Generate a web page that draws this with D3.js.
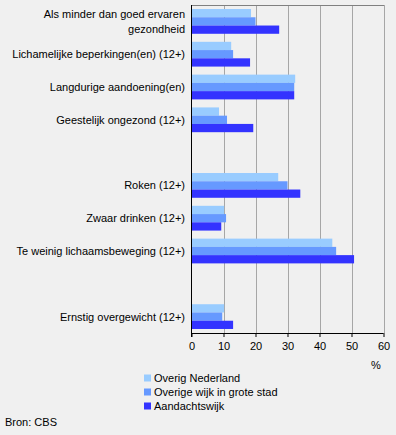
<!DOCTYPE html>
<html><head><meta charset="utf-8">
<script src="https://cdn.jsdelivr.net/npm/d3@7"></script>
<style>
html,body{margin:0;padding:0;background:#f0f0f0;}
svg{display:block;}
text{font-family:"Liberation Sans",Arial,sans-serif;font-size:11px;fill:#000;}
</style></head><body>
<script>
const categories = [
  ["Als minder dan goed ervaren", "gezondheid"],
  ["Lichamelijke beperkingen(en) (12+)"],
  ["Langdurige aandoening(en)"],
  ["Geestelijk ongezond (12+)"],
  [],
  ["Roken (12+)"],
  ["Zwaar drinken (12+)"],
  ["Te weinig lichaamsbeweging (12+)"],
  [],
  ["Ernstig overgewicht (12+)"]
];
const seriesNames = ["Overig Nederland", "Overige wijk in grote stad", "Aandachtswijk"];
const overigNederland = [18.6, 12.4, 32.4, 8.6, null, 27.1, 10.2, 44.0, null, 10.2];
const overigeWijk     = [20.0, 13.0, 32.1, 11.1, null, 30.0, 10.8, 45.2, null, 9.6];
const aandachtswijk   = [27.4, 18.3, 32.1, 19.3, null, 34.0, 9.3, 50.8, null, 13.0];
const xTicks = [0, 10, 20, 30, 40, 50, 60];
const colors = ["#99ccff", "#6699ff", "#3333ff"];
const series = [overigNederland, overigeWijk, aandachtswijk];

(function () {
const W = 396, H = 435;
const pL = 191.5, pR = 383.5, pT = 5, pB = 333;

const svg = d3.select("body").append("svg").attr("width", W).attr("height", H);

const x = d3.scaleLinear().domain([0, 60]).range([pL, pR]);
const y = d3.scaleBand().domain(d3.range(categories.length)).range([pT, pB]).paddingInner(0.245).paddingOuter(0.1225);
const inner = d3.scaleBand().domain(d3.range(series.length)).range([0, y.bandwidth()]);

// gridlines
svg.append("g").selectAll("line").data(xTicks.filter(d => d > 0)).join("line")
  .attr("x1", d => Math.round(x(d)) + 0.5).attr("x2", d => Math.round(x(d)) + 0.5)
  .attr("y1", pT).attr("y2", pB)
  .attr("stroke", "#a6a6a6").attr("stroke-width", 1);
// top border
svg.append("line").attr("x1", pL).attr("x2", pR + 0.5).attr("y1", pT + 0.5).attr("y2", pT + 0.5)
  .attr("stroke", "#808080");

// bars
series.forEach((vals, s) => {
  svg.append("g").selectAll("rect").data(vals.map((v, i) => ({v, i})).filter(d => d.v != null)).join("rect")
    .attr("x", pL)
    .attr("y", d => y(d.i) + inner(s))
    .attr("width", d => x(d.v) - x(0))
    .attr("height", inner.bandwidth())
    .attr("fill", colors[s]);
});

// x axis
const xAxis = svg.append("g").attr("transform", `translate(0,${pB})`)
  .call(d3.axisBottom(x).tickValues(xTicks).tickSize(4).tickPadding(5).tickFormat(d3.format("d")));
xAxis.select(".domain").attr("stroke", "#000").attr("d", `M${pL},0.5H${pR}`);
xAxis.selectAll(".tick line").attr("stroke", "#000");
xAxis.selectAll(".tick text").attr("font-size", 11).attr("font-family", "Liberation Sans, Arial, sans-serif").attr("fill", "#000");

// left axis line
svg.append("line").attr("x1", pL).attr("x2", pL).attr("y1", pT).attr("y2", pB + 4)
  .attr("stroke", "#000");

// category labels
categories.forEach((lines, i) => {
  const cy = y(i) + y.bandwidth() / 2;
  const n = lines.length;
  lines.forEach((t, k) => {
    svg.append("text").attr("x", 185).attr("y", cy + (k - (n - 1) / 2) * 15.5)
      .attr("text-anchor", "end").attr("dominant-baseline", "central").text(t);
  });
});

// % label
svg.append("text").attr("x", 376).attr("y", 365).attr("text-anchor", "middle").attr("dominant-baseline", "central").text("%");

// legend
seriesNames.forEach((n, i) => {
  const ly = 378 + i * 14;
  svg.append("rect").attr("x", 144).attr("y", ly - 3.5).attr("width", 7).attr("height", 7).attr("fill", colors[i]);
  svg.append("text").attr("x", 154).attr("y", ly).attr("dominant-baseline", "central").text(n);
});

svg.append("text").attr("x", 5).attr("y", 422).attr("dominant-baseline", "central").text("Bron: CBS");
})();
</script>
</body></html>
